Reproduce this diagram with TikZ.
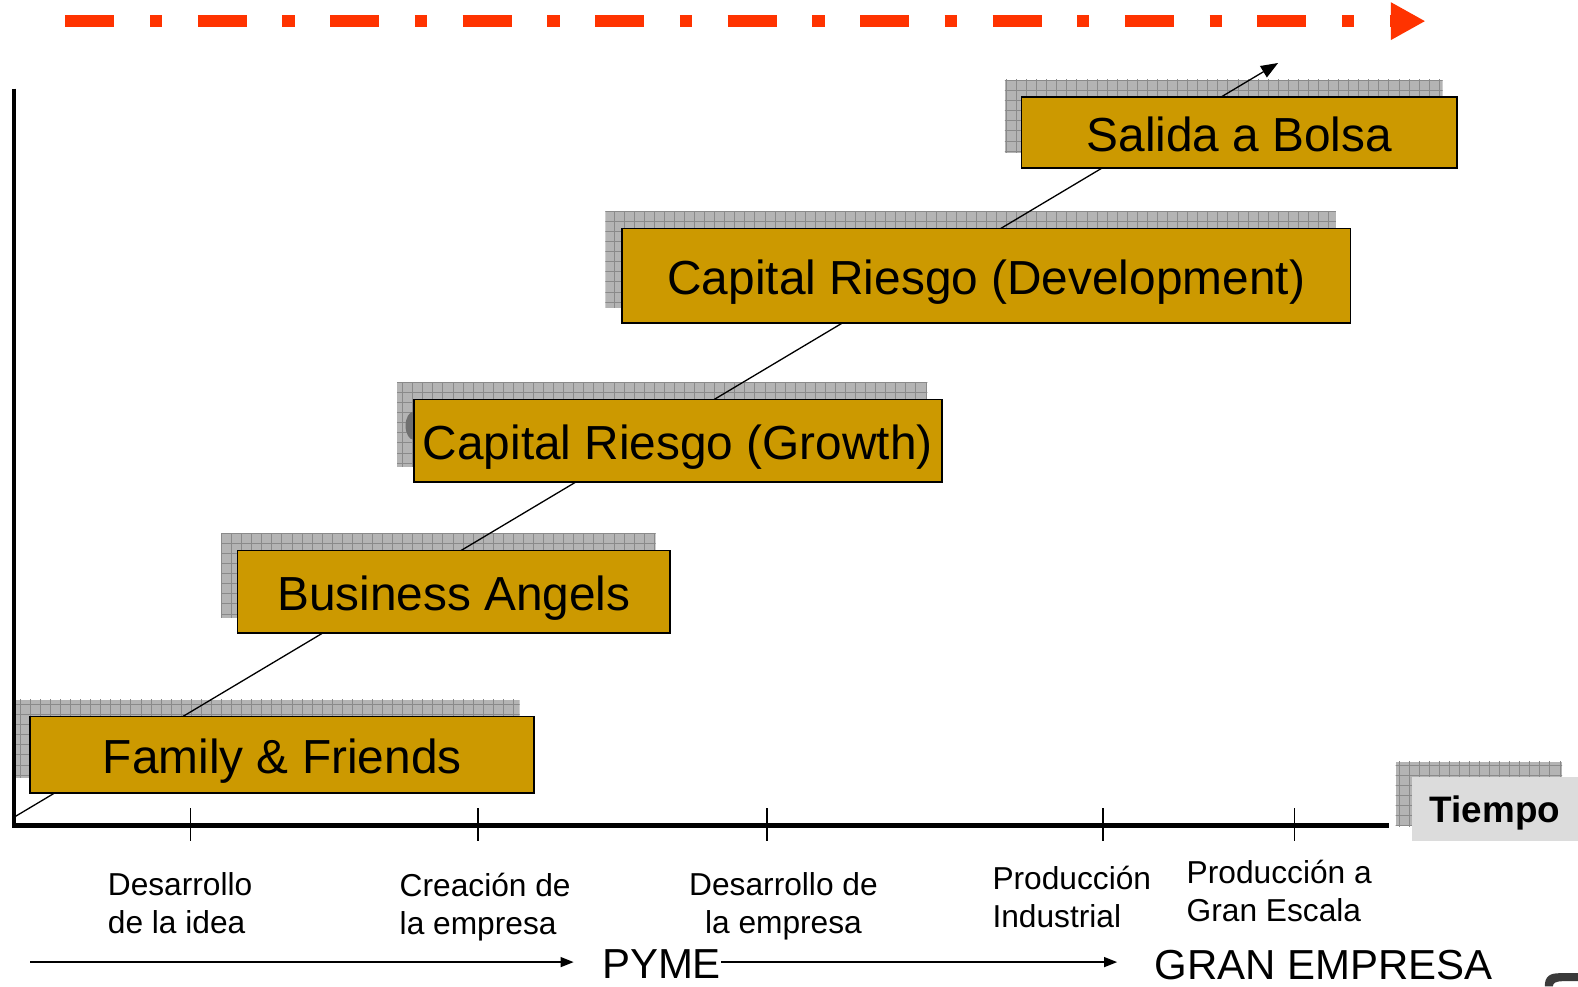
\documentclass[tikz,border=0pt]{standalone}
\usepackage{fontspec}
\setmainfont{Liberation Sans}
\usetikzlibrary{arrows.meta}
\definecolor{boxgold}{HTML}{CC9900}
\definecolor{arrowred}{HTML}{FF3300}
\definecolor{shadowgray}{HTML}{B4B4B4}
\definecolor{gridgray}{HTML}{8A8A8A}
\definecolor{tiempogray}{HTML}{DCDCDC}
\definecolor{blobgray}{HTML}{707070}
\definecolor{cornerdark}{HTML}{3A3A3A}
\pgfdeclarelayer{shadowlayer}
\pgfdeclarelayer{connlayer}
\pgfsetlayers{shadowlayer,connlayer,main}
\begin{document}
\begin{tikzpicture}[x=1pt,y=-1pt,
  stagebox/.style={draw=black, line width=1.8pt, fill=boxgold, inner sep=0pt,
    font=\fontsize{47.5}{57}\selectfont, text height=38pt, text depth=0pt},
  tiempobox/.style={fill=tiempogray, inner sep=0pt, minimum width=165pt, minimum height=64pt,
    font=\bfseries\fontsize{36.6}{44}\selectfont, text height=26pt, text depth=0pt},
  stagelabel/.style={inner sep=0pt, font=\fontsize{31.5}{38}\selectfont},
  biglabel/.style={inner sep=0pt, font=\fontsize{41.7}{50}\selectfont},
  axisline/.style={line width=4.5pt, line join=miter, line cap=butt},
  tickline/.style={line width=1.3pt},
  thinarrow/.style={line width=1.3pt, -{Triangle[length=13pt,width=10pt]}},
  growth/.style={line width=1.3pt, -{Triangle[length=17pt,width=13pt]}},
  timearrow/.style={arrowred, line width=12pt,
    dash pattern=on 48.7pt off 35.4pt on 12.2pt off 35.3pt,
    -{Triangle[length=34.5pt,width=35pt]}},
  shadowgrid/.style={gridgray, line width=0.7pt}
]
\useasboundingbox (0,0) rectangle (1568,980);

% top time arrow
\coordinate (rs) at (65,21);
\coordinate (re) at (1416.5,21);
\draw[timearrow] (rs) -- (re);

% axes
\coordinate (ytop) at (14,88);
\coordinate (orig) at (14,820);
\coordinate (xend) at (1380,820);
\draw[axisline] (ytop) -- (orig) -- (xend);

% ticks
\foreach \tx in {189,475,762,1096,1286}{
  \draw[tickline] (\tx,803) -- (\tx,836);
}

% stage boxes
\node[stagebox, minimum width=501pt, minimum height=76pt] (ff)  at (280.5,750) {Family \& Friends};
\node[stagebox, minimum width=430pt, minimum height=82pt] (ba)  at (451,588) {Business Angels};
\node[stagebox, minimum width=525pt, minimum height=82pt] (crg) at (673.5,438) {Capital Riesgo (Growth)};
\node[stagebox, minimum width=724pt, minimum height=94pt] (crd) at (980,274) {Capital Riesgo (Development)};
\node[stagebox, minimum width=433pt, minimum height=71pt] (sb)  at (1231.5,131.5) {Salida a Bolsa};

% Tiempo
\node[tiempobox] (tiempo) at (1485.5,804) {Tiempo};

% shadows
\begin{pgfonlayer}{shadowlayer}
\foreach \b in {ff,ba,crg,crd,sb}{
  \begin{scope}
    \clip ([shift={(-15.5,-16)}]\b.north west) rectangle ([shift={(-15.5,-16)}]\b.south east);
    \fill[shadowgray] ([shift={(-15.5,-16)}]\b.north west) rectangle ([shift={(-15.5,-16)}]\b.south east);
    \draw[shadowgrid, step=10pt] ([shift={(-25.5,-6)}]\b.south west) grid ([shift={(-5.5,-26)}]\b.north east);
  \end{scope}
}
\begin{scope}
  \clip ([shift={(-16,-15)}]tiempo.north west) rectangle ([shift={(-16,-15)}]tiempo.south east);
  \fill[shadowgray] ([shift={(-16,-15)}]tiempo.north west) rectangle ([shift={(-16,-15)}]tiempo.south east);
  \draw[shadowgrid, step=10pt] ([shift={(-26,-5)}]tiempo.south west) grid ([shift={(-6,-25)}]tiempo.north east);
\end{scope}
\fill[blobgray] (411,423) ellipse[x radius=8, y radius=14];
\end{pgfonlayer}

% growth line
\begin{pgfonlayer}{connlayer}
\coordinate (gstart) at (14,812);
\coordinate (gtip) at (1270,62.6);
\draw[growth] (gstart) -- (gtip);
\end{pgfonlayer}

% stage labels
\node[stagelabel, anchor=north west, align=left] (l1) at (107,867) {Desarrollo\\de la idea};
\node[stagelabel, anchor=north west, align=left] (l2) at (397,867) {Creación de\\la empresa};
\node[stagelabel, anchor=north, align=center] (l3) at (778.5,867) {Desarrollo de\\la empresa};
\node[stagelabel, anchor=north west, align=left] (l4) at (986,860) {Producción\\Industrial};
\node[stagelabel, anchor=north west, align=left] (l5) at (1179,854) {Producción a\\Gran Escala};

% bottom
\node[biglabel, anchor=base west] (pyme) at (598,972) {PYME};
\node[biglabel, anchor=base west] (gran) at (1147,973) {GRAN EMPRESA};
\coordinate (a1) at (30,956);
\draw[thinarrow, shorten >=28pt] (a1) -- (a1 -| pyme.west);
\draw[thinarrow, shorten >=37pt] (a1 -| pyme.east) -- (a1 -| gran.west);

% corner fragment
\fill[cornerdark] (1535,980) .. controls (1535,970) and (1540,967) .. (1550,967) -- (1568,967) -- (1568,975) -- (1552,975) .. controls (1546,975) and (1543,977) .. (1543,980) -- cycle;
\end{tikzpicture}
\end{document}
